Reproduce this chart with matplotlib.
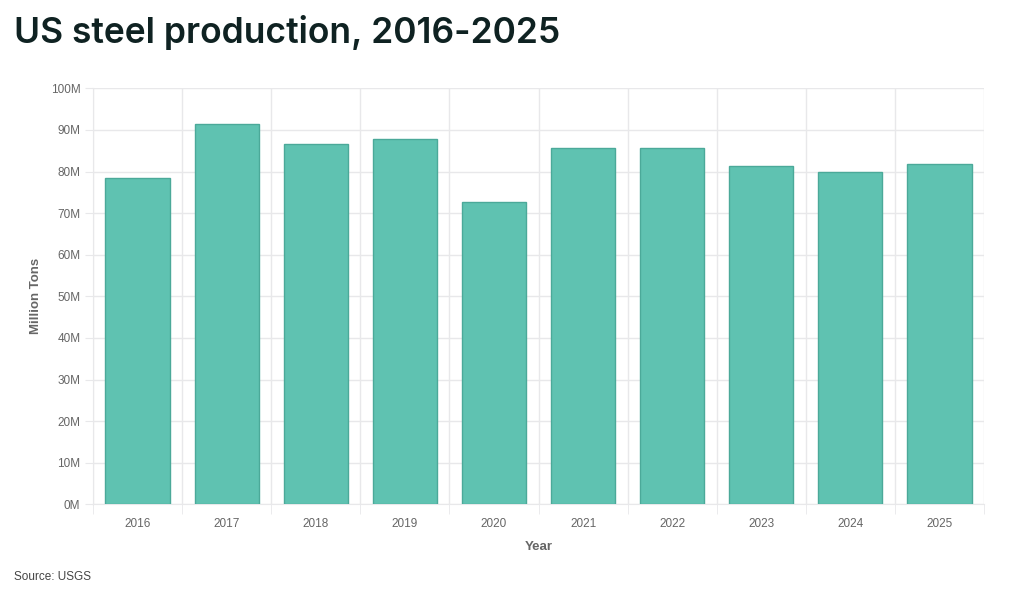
import matplotlib
matplotlib.use("Agg")
import matplotlib.pyplot as plt
from matplotlib.ticker import FuncFormatter, MultipleLocator
import numpy as np

years = ["2016", "2017", "2018", "2019", "2020", "2021", "2022", "2023", "2024", "2025"]
production_m = [78.4, 91.5, 86.6, 87.8, 72.6, 85.7, 85.7, 81.4, 79.9, 81.7]

title = "US steel production, 2016-2025"
source = "Source: USGS"

plt.rcParams["font.family"] = ["Liberation Sans", "DejaVu Sans"]

fig = plt.figure(figsize=(10.24, 5.99), dpi=100)
ax = fig.add_axes([0.0908, 0.158, 0.8702, 0.6946])

x = np.arange(len(years))
ax.bar(x, production_m, width=0.72, color="#5fc2b1", edgecolor="#4ba999",
       linewidth=1.0, zorder=3)

ax.set_xlim(-0.5, len(years) - 0.5)
ax.set_ylim(0, 100)
ax.yaxis.set_major_locator(MultipleLocator(10))
ax.yaxis.set_major_formatter(FuncFormatter(lambda v, p: f"{int(v)}M"))

ax.set_xticks(x)
ax.set_xticklabels(years)
ax.set_xticks(np.arange(-0.5, len(years), 1), minor=True)

grid_c = "#e8e8ea"
ax.grid(axis="y", which="major", color=grid_c, linewidth=1, zorder=0)
ax.grid(axis="x", which="minor", color=grid_c, linewidth=1, zorder=0)
ax.grid(axis="x", which="major", visible=False)

for s in ["top", "right"]:
    ax.spines[s].set_visible(False)
ax.spines["left"].set_color(grid_c)
ax.spines["bottom"].set_color(grid_c)

ax.tick_params(axis="x", which="major", length=0, pad=10, labelsize=8.5, labelcolor="#666666")
ax.tick_params(axis="x", which="minor", length=7, color=grid_c)
ax.tick_params(axis="y", which="major", length=6, color=grid_c, pad=3, labelsize=8.5, labelcolor="#666666")

ax.set_xlabel("Year", fontsize=9.5, fontweight="bold", color="#666666", labelpad=8)
ax.set_ylabel("Million Tons", fontsize=9.5, fontweight="bold", color="#666666", labelpad=6)

fig.text(0.0137, 0.945, title, fontsize=25.5, fontweight="semibold", color="#0f2222",
         family="Inter", va="center", ha="left")
fig.text(0.0137, 0.037, source, fontsize=8.5, color="#444444", va="center", ha="left")

fig.savefig("out.png", dpi=100)
